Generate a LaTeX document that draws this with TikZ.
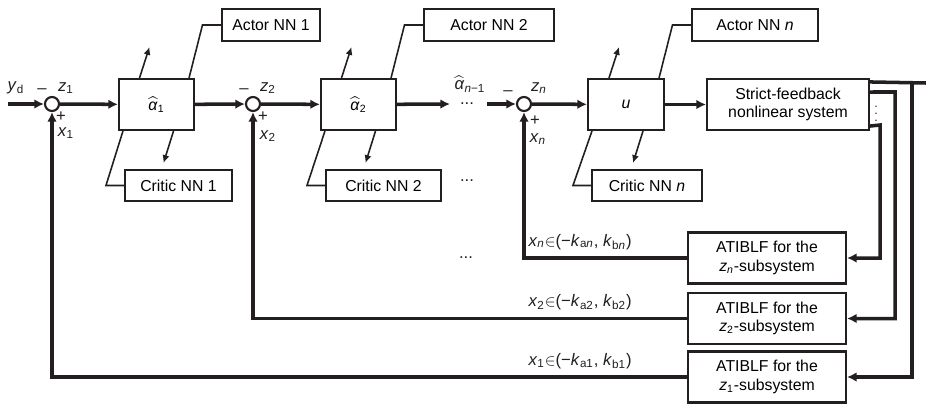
\documentclass[tikz,border=0pt]{standalone}
\usepackage{fontspec}
\setmainfont{Liberation Sans}
\usepackage{xcolor}
\usetikzlibrary{arrows.meta,positioning}
\definecolor{bdink}{HTML}{231F20}
\newcommand{\vsub}[2]{\textit{#1}\textsubscript{#2}}
\newcommand{\ahat}{$\widehat{\mbox{\textit{α}}}$}
\tikzset{
  blk/.style={draw=bdink,line width=1.2pt,minimum height=1.02cm,inner sep=1pt,align=center,font=\fontsize{9}{10.5}\selectfont},
  nnbox/.style={draw=bdink,line width=1.2pt,minimum height=0.63cm,inner sep=1pt,font=\fontsize{9}{10}\selectfont},
  sumnode/.style={draw=bdink,circle,line width=1.2pt,minimum size=0.28cm,inner sep=0pt},
  sig/.style={draw=bdink,line width=2pt,-{Latex[length=5.5pt,width=5.5pt]}},
  tune/.style={draw=bdink,line width=0.9pt},
  tunearr/.style={tune,-{Latex[length=4.5pt,width=4pt]}},
  lbl/.style={font=\fontsize{9.5}{11}\selectfont,text=bdink,inner sep=0pt}
}

\begin{document}
\begin{tikzpicture}[x=0.02cm,y=-0.02cm]
      \useasboundingbox (0,0) rectangle (926,403);
      % forward path
      \coordinate (in) at (8,104);
      \node[sumnode] (s1) at (52,104) {};
      \node[blk,minimum width=1.5cm] (a1) at (156.5,104.5) {\ahat\textsubscript{1}};
      \node[sumnode] (s2) at (253,104) {};
      \node[blk,minimum width=1.5cm] (a2) at (358.5,104.5) {\ahat\textsubscript{2}};
      \coordinate (pre) at (450,104);
      \coordinate (post) at (487,104);
      \node[sumnode] (sn) at (524,104) {};
      \node[blk,minimum width=1.52cm] (u) at (626,104.5) {\textit{u}};
      \node[blk,minimum width=3.24cm] (sys) at (788,104.5) {Strict-feedback\\nonlinear system};
      \draw[sig] (in) -- (s1);
      \draw[sig] (s1) -- (a1);
      \draw[sig] (a1) -- (s2);
      \draw[sig] (s2) -- (a2);
      \draw[sig] (a2) -- (pre);
      \draw[sig] (post) -- (sn);
      \draw[sig] (sn) -- (u);
      \draw[sig] (u) -- (sys);
      % actor and critic networks
      \node[nnbox,minimum width=1.96cm] (act1) at (271,25) {Actor NN 1};
      \node[nnbox,minimum width=2.6cm] (act2) at (489,25) {Actor NN 2};
      \node[nnbox,minimum width=2.52cm] (actn) at (755,25) {Actor NN \textit{n}};
      \node[nnbox,minimum width=2.14cm] (crit1) at (178.5,185.5) {Critic NN 1};
      \node[nnbox,minimum width=2.3cm] (crit2) at (383.5,185.5) {Critic NN 2};
      \node[nnbox,minimum width=2.2cm] (critn) at (647,185.5) {Critic NN \textit{n}};
      \foreach \blkname/\act/\crit in {a1/act1/crit1,a2/act2/crit2,u/actn/critn}{
        \draw[tune] ([xshift=-0.12cm]\blkname.north east) -- ([xshift=-0.37cm]\act.west) -- (\act.west);
        \draw[tune] ([xshift=0.1cm]\blkname.south west) -- ([xshift=-0.36cm]\crit.west) -- (\crit.west);
        \draw[tunearr] ([xshift=-0.34cm]\blkname.north) -- ++(10,-31);
        \draw[tunearr] ([xshift=0.34cm]\blkname.south) -- ++(-10,32);
      }
      % barrier function blocks
      \node[blk,minimum width=3.16cm] (bn) at (767,258) {ATIBLF for the\\\vsub{z}{\textit{n}}-subsystem};
      \node[blk,minimum width=3.16cm] (b2) at (767,318.5) {ATIBLF for the\\\vsub{z}{2}-subsystem};
      \node[blk,minimum width=3.16cm] (b1) at (767,377) {ATIBLF for the\\\vsub{z}{1}-subsystem};
      % measured outputs
      \coordinate (o1) at ([yshift=-0.08cm]sys.north east);
      \coordinate (o2) at ([yshift=0.25cm]sys.east);
      \coordinate (o3) at ([yshift=0.1cm]sys.south east);
      \coordinate (edge) at (926,83);
      \coordinate (r1) at (912,83);
      \coordinate (r2) at (895,92);
      \coordinate (r3) at (880,125);
      \draw[sig,-] (o1) -- (edge);
      \draw[sig] (r1) |- (b1.east);
      \draw[sig] (o2) -- (r2) |- (b2.east);
      \draw[sig] (o3) -- (r3) |- (bn.east);
      \node[lbl,font=\scriptsize] (vd) at (876,109) {$\vdots$};
      % feedback to the summing junctions
      \draw[sig] (bn.west) -| (sn.south);
      \draw[sig] (b2.west) -| (s2.south);
      \draw[sig] (b1.west) -| (s1.south);
      \node[lbl,above left=0.16cm and 1.1cm of bn.west] (kn) {\vsub{x}{\textit{n}}$\in$(−\vsub{k}{a\textit{n}}, \vsub{k}{b\textit{n}})};
      \node[lbl,above left=0.16cm and 1.1cm of b2.west] (k2) {\vsub{x}{2}$\in$(−\vsub{k}{a2}, \vsub{k}{b2})};
      \node[lbl,above left=0.16cm and 1.1cm of b1.west] (k1) {\vsub{x}{1}$\in$(−\vsub{k}{a1}, \vsub{k}{b1})};
      % junction labels
      \node[lbl] (yd) at (16,88) {\vsub{y}{d}};
      \node[lbl] (m1) at (42,91) {–};
      \node[lbl] (z1) at (66,88) {\vsub{z}{1}};
      \node[lbl] (p1) at (61,117) {+};
      \node[lbl] (x1) at (66,133) {\vsub{x}{1}};
      \node[lbl] (m2) at (244,91) {–};
      \node[lbl] (z2) at (268,88) {\vsub{z}{2}};
      \node[lbl] (p2) at (263,117) {+};
      \node[lbl] (x2) at (268,136) {\vsub{x}{2}};
      \node[lbl] (mn) at (508,93) {–};
      \node[lbl] (zn) at (539,88) {\vsub{z}{\textit{n}}};
      \node[lbl] (pn) at (535,121) {+};
      \node[lbl] (xn) at (538,139) {\vsub{x}{\textit{n}}};
      \node[lbl] (an1) at (470,84) {\ahat\textsubscript{\textit{n}−1}};
      \node[lbl] (dots1) at (467,104) {...};
      \node[lbl] (dots2) at (467,181) {...};
      \node[lbl] (dots3) at (466,258) {...};
    \end{tikzpicture}
\end{document}
